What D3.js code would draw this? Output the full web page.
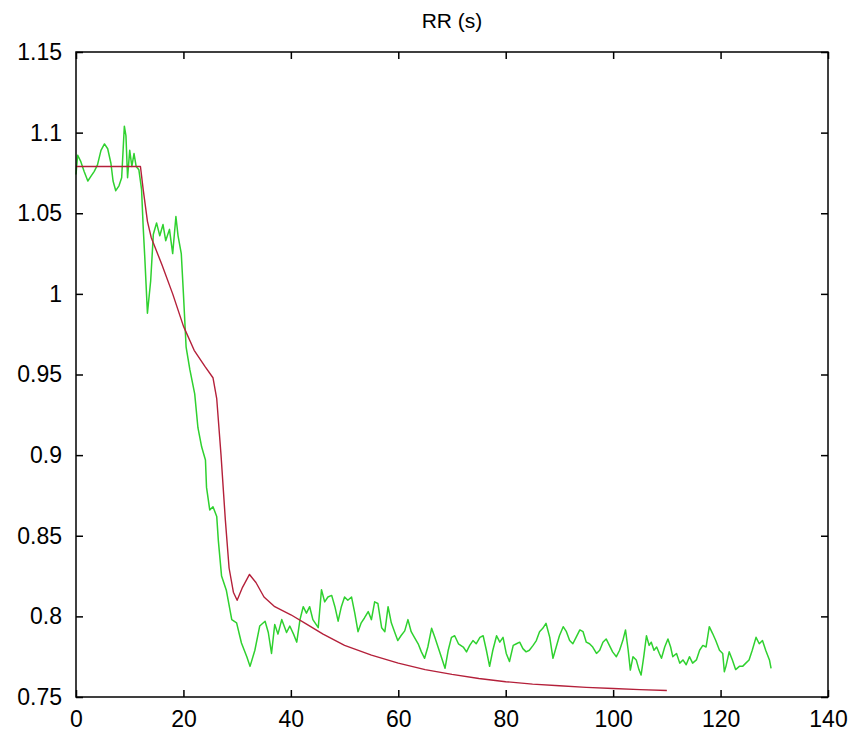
<!DOCTYPE html>
<html>
<head>
<meta charset="utf-8">
<script src="https://cdn.jsdelivr.net/npm/d3@7"></script>
<style>
  body { margin: 0; background: #fff; }
  svg { display: block; }
</style>
</head>
<body>
<svg></svg>
<script>
const greenTime = [0, 0.3, 0.9, 1.5, 2.2, 2.8, 3.4, 4.0, 4.65, 5.3, 5.9, 6.5, 6.9, 7.4, 8.0, 8.5, 9.0, 9.3, 9.6, 10.0,
  10.4, 10.8, 11.2, 11.7, 12.2, 12.5, 12.8, 13.3, 13.9, 14.4, 15.0, 15.6, 16.2, 16.7, 17.4, 18.0, 18.6, 19.0, 19.6, 20.0,
  20.5, 21.2, 22.1, 22.7, 23.4, 24.1, 24.3, 24.9, 25.5, 26.2, 26.5, 27.1, 28.0, 29.0, 29.9, 30.8, 31.8, 32.4, 33.3, 34.2,
  35.2, 35.8, 36.4, 37.0, 37.6, 38.3, 39.2, 39.8, 40.5, 41.1, 41.7, 42.3, 42.9, 43.5, 44.1, 45.1, 45.7, 46.3, 46.9, 47.6,
  48.2, 48.8, 49.4, 50.0, 50.6, 51.3, 51.9, 52.5, 53.1, 53.7, 54.4, 55.0, 55.6, 56.2, 56.9, 57.5, 58.1, 58.7, 59.3, 59.9,
  60.5, 61.2, 61.8, 62.4, 63.0, 63.7, 64.3, 64.9, 65.5, 66.2, 66.8, 67.4, 68.0, 68.7, 69.3, 69.9, 70.5, 71.2, 72.1, 72.7,
  73.3, 73.9, 74.5, 75.2, 75.8, 76.4, 77.0, 77.6, 78.3, 78.9, 79.5, 80.1, 80.7, 81.4, 82.0, 82.6, 83.2, 83.8, 84.4, 85.1,
  85.7, 86.3, 86.9, 87.5, 88.2, 88.8, 89.4, 90.0, 90.7, 91.3, 91.9, 92.5, 93.1, 93.8, 94.4, 95.0, 95.6, 96.2, 96.9, 97.5,
  98.1, 98.7, 99.3, 99.9, 100.6, 101.2, 101.8, 102.3, 102.8, 103.2, 103.7, 104.3, 104.8, 105.2, 105.7, 106.2, 106.7, 107.1, 107.6, 108.1,
  108.6, 109.0, 109.6, 110.2, 110.7, 111.1, 111.8, 112.4, 113.0, 113.6, 114.2, 114.8, 115.5, 116.1, 116.7, 117.3, 117.9, 118.5, 119.1, 119.8,
  120.4, 120.7, 121.0, 121.6, 122.2, 122.8, 123.5, 124.1, 124.7, 125.3, 125.9, 126.6, 127.2, 127.8, 128.4, 129.1, 129.4];
const greenRR = [1.074, 1.086, 1.082, 1.076, 1.070, 1.073, 1.076, 1.080, 1.089, 1.093, 1.090, 1.081, 1.070, 1.064, 1.067, 1.072, 1.104, 1.098, 1.072, 1.089,
  1.079, 1.087, 1.079, 1.077, 1.065, 1.042, 1.023, 0.988, 1.008, 1.037, 1.044, 1.036, 1.043, 1.033, 1.040, 1.025, 1.048, 1.036, 1.025, 1.000,
  0.967, 0.953, 0.938, 0.917, 0.905, 0.897, 0.880, 0.866, 0.868, 0.862, 0.847, 0.825, 0.816, 0.798, 0.796, 0.7835, 0.775, 0.769, 0.779, 0.794,
  0.797, 0.790, 0.777, 0.795, 0.789, 0.798, 0.790, 0.794, 0.789, 0.784, 0.798, 0.806, 0.802, 0.806, 0.798, 0.793, 0.8165, 0.809, 0.812, 0.813,
  0.806, 0.797, 0.806, 0.812, 0.810, 0.812, 0.802, 0.7905, 0.796, 0.799, 0.803, 0.798, 0.809, 0.808, 0.793, 0.7905, 0.806, 0.796, 0.7905, 0.785,
  0.788, 0.791, 0.798, 0.7905, 0.787, 0.783, 0.778, 0.774, 0.781, 0.7926, 0.787, 0.781, 0.775, 0.7678, 0.779, 0.787, 0.788, 0.783, 0.781, 0.778,
  0.782, 0.785, 0.783, 0.787, 0.788, 0.779, 0.769, 0.779, 0.788, 0.784, 0.787, 0.777, 0.772, 0.782, 0.783, 0.784, 0.780, 0.778, 0.779, 0.782,
  0.785, 0.7905, 0.7926, 0.7957, 0.787, 0.774, 0.781, 0.788, 0.7936, 0.7905, 0.785, 0.783, 0.787, 0.7916, 0.7905, 0.784, 0.783, 0.781, 0.777, 0.779,
  0.784, 0.786, 0.782, 0.778, 0.775, 0.779, 0.785, 0.7916, 0.779, 0.7667, 0.775, 0.773, 0.767, 0.7636, 0.775, 0.788, 0.782, 0.784, 0.779, 0.781,
  0.777, 0.774, 0.781, 0.786, 0.781, 0.775, 0.777, 0.771, 0.773, 0.770, 0.775, 0.771, 0.773, 0.779, 0.782, 0.781, 0.7936, 0.7895, 0.785, 0.779,
  0.777, 0.7657, 0.769, 0.778, 0.773, 0.767, 0.769, 0.769, 0.771, 0.773, 0.779, 0.787, 0.783, 0.785, 0.779, 0.773, 0.7677];

// model RR (red)
const redTime = [0, 12, 12.5, 13.3, 14, 16, 18, 20, 22, 24, 25.5, 26.2, 27, 27.8, 28.5, 29.3, 30, 31, 32.3, 33.5,
  35, 37, 40, 43, 46, 50, 55, 60, 65, 70, 75, 80, 85, 90, 95, 100, 105, 110];
const redRR = [1.079, 1.079, 1.065, 1.045, 1.035, 1.018, 1.000, 0.980, 0.965, 0.955, 0.948, 0.935, 0.900, 0.860, 0.830, 0.815, 0.810, 0.818, 0.826, 0.821,
  0.812, 0.806, 0.801, 0.795, 0.789, 0.782, 0.776, 0.771, 0.767, 0.764, 0.7615, 0.7595, 0.758, 0.757, 0.756, 0.7553, 0.7546, 0.754];

const xTicks = [0, 20, 40, 60, 80, 100, 120, 140];
const yTicks = [0.75, 0.8, 0.85, 0.9, 0.95, 1, 1.05, 1.1, 1.15];
const TITLE = 'RR (s)';

const WIDTH = 853;
const HEIGHT = 733;
const LEFT = 76;
const RIGHT = 828;
const TOP = 52;
const BOTTOM = 697;
const TICK = 7;
const FONT = '"Liberation Sans", Arial, sans-serif';

const svg = d3.select('svg').
  attr('width', WIDTH).
  attr('height', HEIGHT).
  attr('font-family', FONT);

const xScale = d3.scaleLinear().domain([0, 140]).range([LEFT, RIGHT]);
const yScale = d3.scaleLinear().domain([0.75, 1.15]).range([BOTTOM, TOP]);

const line = d3.line().
  x(d => xScale(d[0])).
  y(d => yScale(d[1]));

const greenData = greenTime.map((t, i) => [t, greenRR[i]]);
const redData = redTime.map((t, i) => [t, redRR[i]]);

svg.append('path').
  datum(greenData).
  attr('d', line).
  attr('fill', 'none').
  attr('stroke', '#2fd12f').
  attr('stroke-width', 1.5).
  attr('stroke-linejoin', 'round');

svg.append('path').
  datum(redData).
  attr('d', line).
  attr('fill', 'none').
  attr('stroke', '#b4203a').
  attr('stroke-width', 1.4).
  attr('stroke-linejoin', 'round');

// axes - ticks point inward, on all four sides like matlab
const xAxis = d3.axisBottom(xScale).tickValues(xTicks).tickSize(-TICK).tickPadding(14).tickFormat(d3.format('d'));
const yAxis = d3.axisLeft(yScale).tickValues(yTicks).tickSize(-TICK).tickPadding(14).tickFormat(d => String(d));
const xTop = d3.axisTop(xScale).tickValues(xTicks).tickSize(-TICK).tickFormat('');
const yRight = d3.axisRight(yScale).tickValues(yTicks).tickSize(-TICK).tickFormat('');

const axisStyle = g => {
  g.select('.domain').remove();
  g.selectAll('line').attr('stroke', '#000').attr('stroke-width', 1.5);
  g.selectAll('text').attr('fill', '#000').attr('font-size', 23).attr('font-family', FONT);
};

svg.append('g').attr('transform', `translate(0,${BOTTOM})`).call(xAxis).call(axisStyle);
svg.append('g').attr('transform', `translate(${LEFT},0)`).call(yAxis).call(axisStyle);
svg.append('g').attr('transform', `translate(0,${TOP})`).call(xTop).call(axisStyle);
svg.append('g').attr('transform', `translate(${RIGHT},0)`).call(yRight).call(axisStyle);

svg.append('rect').
  attr('x', LEFT).
  attr('y', TOP).
  attr('width', RIGHT - LEFT).
  attr('height', BOTTOM - TOP).
  attr('fill', 'none').
  attr('stroke', '#000').
  attr('stroke-width', 1.5);

svg.append('text').
  text(TITLE).
  attr('x', (LEFT + RIGHT) / 2).
  attr('y', 28).
  attr('text-anchor', 'middle').
  attr('font-size', 21).
  attr('fill', '#000');
</script>
</body>
</html>
